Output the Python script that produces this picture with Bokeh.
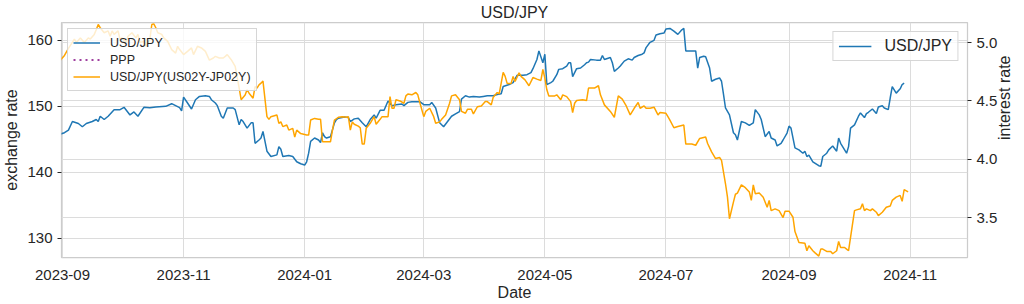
import math
import pandas as pd
from datetime import datetime
from bokeh.plotting import figure
from bokeh.models import (Range1d, LinearAxis, Grid, Legend, LegendItem, MonthsTicker,
                          DatetimeTickFormatter, ColumnDataSource, SingleIntervalTicker,
                          PrintfTickFormatter)
from bokeh.embed import file_html
from bokeh.resources import INLINE

# ---------------- data ----------------
usdjpy_dates = [
    "2023-08-31", "2023-09-02", "2023-09-04", "2023-09-06", "2023-09-09", "2023-09-11", "2023-09-13",
    "2023-09-16", "2023-09-18", "2023-09-19", "2023-09-20", "2023-09-22", "2023-09-24", "2023-09-27",
    "2023-09-30", "2023-10-02", "2023-10-05", "2023-10-07", "2023-10-09", "2023-10-12", "2023-10-15",
    "2023-10-18", "2023-10-23", "2023-10-26", "2023-10-30", "2023-10-31", "2023-11-01", "2023-11-03",
    "2023-11-05", "2023-11-07", "2023-11-09", "2023-11-12", "2023-11-14", "2023-11-15", "2023-11-17",
    "2023-11-18", "2023-11-20", "2023-11-21", "2023-11-23", "2023-11-26", "2023-11-27", "2023-11-29",
    "2023-11-30", "2023-12-01", "2023-12-03", "2023-12-05", "2023-12-06", "2023-12-07", "2023-12-09",
    "2023-12-10", "2023-12-11", "2023-12-13", "2023-12-15", "2023-12-18", "2023-12-19", "2023-12-20",
    "2023-12-21", "2023-12-24", "2023-12-26", "2023-12-28", "2023-12-30", "2024-01-01", "2024-01-02",
    "2024-01-03", "2024-01-04", "2024-01-06", "2024-01-08", "2024-01-09", "2024-01-10", "2024-01-11",
    "2024-01-12", "2024-01-14", "2024-01-16", "2024-01-17", "2024-01-18", "2024-01-21", "2024-01-23",
    "2024-01-24", "2024-01-26", "2024-01-28", "2024-01-30", "2024-02-01", "2024-02-03", "2024-02-05",
    "2024-02-06", "2024-02-08", "2024-02-10", "2024-02-12", "2024-02-14", "2024-02-16", "2024-02-19",
    "2024-02-20", "2024-02-22", "2024-02-24", "2024-02-28", "2024-03-01", "2024-03-04", "2024-03-05",
    "2024-03-07", "2024-03-09", "2024-03-11", "2024-03-13", "2024-03-15", "2024-03-17", "2024-03-19",
    "2024-03-20", "2024-03-22", "2024-03-24", "2024-03-26", "2024-03-29", "2024-03-31", "2024-04-02",
    "2024-04-05", "2024-04-07", "2024-04-09", "2024-04-10", "2024-04-13", "2024-04-15", "2024-04-17",
    "2024-04-20", "2024-04-22", "2024-04-24", "2024-04-25", "2024-04-27", "2024-04-28", "2024-04-30",
    "2024-05-01", "2024-05-02", "2024-05-04", "2024-05-05", "2024-05-07", "2024-05-08", "2024-05-10",
    "2024-05-12", "2024-05-13", "2024-05-14", "2024-05-15", "2024-05-17", "2024-05-19", "2024-05-21",
    "2024-05-22", "2024-05-23", "2024-05-24", "2024-05-27", "2024-05-29", "2024-05-30", "2024-05-31",
    "2024-06-03", "2024-06-04", "2024-06-05", "2024-06-07", "2024-06-08", "2024-06-10", "2024-06-12",
    "2024-06-14", "2024-06-15", "2024-06-17", "2024-06-19", "2024-06-20", "2024-06-21", "2024-06-23",
    "2024-06-25", "2024-06-26", "2024-06-28", "2024-06-30", "2024-07-01", "2024-07-03", "2024-07-05",
    "2024-07-07", "2024-07-09", "2024-07-10", "2024-07-11", "2024-07-14", "2024-07-16", "2024-07-17",
    "2024-07-18", "2024-07-20", "2024-07-21", "2024-07-23", "2024-07-24", "2024-07-26", "2024-07-28",
    "2024-07-29", "2024-07-30", "2024-07-31", "2024-08-02", "2024-08-04", "2024-08-05", "2024-08-06",
    "2024-08-08", "2024-08-10", "2024-08-12", "2024-08-14", "2024-08-15", "2024-08-17", "2024-08-18",
    "2024-08-20", "2024-08-22", "2024-08-23", "2024-08-25", "2024-08-26", "2024-08-28", "2024-08-29",
    "2024-08-31", "2024-09-01", "2024-09-02", "2024-09-04", "2024-09-06", "2024-09-08", "2024-09-09",
    "2024-09-10", "2024-09-11", "2024-09-13", "2024-09-16", "2024-09-17", "2024-09-18", "2024-09-20",
    "2024-09-21", "2024-09-23", "2024-09-25", "2024-09-26", "2024-09-27", "2024-09-30", "2024-10-01",
    "2024-10-02", "2024-10-04", "2024-10-06", "2024-10-07", "2024-10-09", "2024-10-10", "2024-10-11",
    "2024-10-13", "2024-10-15", "2024-10-16", "2024-10-18", "2024-10-19", "2024-10-21", "2024-10-22",
    "2024-10-23", "2024-10-25", "2024-10-27", "2024-10-28", "2024-10-29",
]
usdjpy_values = [
    145.8, 146.0, 146.4, 147.7, 147.4, 146.9, 147.4,
    147.7, 148.0, 147.7, 148.5, 148.0, 148.5, 149.5,
    149.5, 149.85, 148.7, 149.15, 148.5, 149.85, 149.8,
    149.9, 150.0, 150.4, 149.8, 149.3, 151.4, 150.5,
    149.6, 151.0, 151.5, 151.6, 151.5, 151.0, 150.5,
    150.1, 148.5, 148.2, 149.75, 149.75, 149.5, 147.2,
    148.0, 147.7, 146.7, 147.5, 147.5, 144.4, 144.9,
    145.2, 146.2, 143.2, 142.4, 142.65, 143.9, 143.5,
    142.4, 142.55, 142.4, 141.6, 141.3, 141.1, 141.6,
    142.9, 144.7, 145.2, 144.9, 144.5, 146.0, 145.4,
    145.2, 145.4, 147.5, 148.0, 148.2, 148.4, 148.3,
    147.7, 148.1, 148.2, 147.5, 146.9, 148.0, 148.7,
    148.2, 149.4, 149.4, 150.8, 150.1, 150.25, 150.35,
    150.1, 150.6, 150.7, 150.7, 150.25, 150.25, 150.6,
    149.75, 147.5, 146.9, 147.7, 148.5, 148.85, 149.2,
    151.1, 151.6, 151.4, 151.5, 151.4, 151.5, 151.6,
    151.6, 151.8, 151.9, 153.0, 153.3, 153.6, 154.7,
    154.7, 154.8, 155.1, 155.7, 157.1, 158.4, 156.6,
    157.9, 153.3, 153.6, 153.8, 154.8, 155.6, 155.7,
    156.1, 156.6, 156.6, 154.5, 155.7, 155.8, 156.3,
    156.6, 156.7, 157.1, 157.0, 157.0, 157.7, 157.1,
    157.4, 156.6, 155.3, 155.8, 156.1, 156.85, 157.2,
    157.0, 157.4, 157.7, 157.9, 158.1, 158.9, 159.7,
    160.0, 160.8, 161.0, 161.1, 161.7, 161.8, 161.4,
    160.9, 161.6, 161.8, 158.4, 158.4, 158.4, 155.8,
    157.4, 157.6, 157.5, 155.8, 153.8, 154.1, 154.3,
    153.8, 151.8, 149.75, 148.7, 146.0, 145.7, 144.9,
    147.7, 147.5, 147.1, 147.5, 149.5, 148.7, 148.0,
    145.4, 146.2, 145.2, 144.9, 144.0, 144.4, 144.9,
    145.95, 147.0, 146.7, 143.7, 143.4, 142.9, 143.2,
    142.4, 142.6, 141.6, 141.0, 140.9, 142.4, 142.9,
    143.4, 144.0, 143.2, 145.2, 144.4, 142.9, 143.9,
    146.7, 147.2, 148.5, 149.0, 148.3, 148.9, 149.1,
    149.6, 148.9, 149.9, 150.1, 149.75, 149.5, 151.3,
    153.0, 152.0, 152.65, 153.3, 153.5,
]

spread_dates = [
    "2023-08-31", "2023-09-02", "2023-09-04", "2023-09-07", "2023-09-08", "2023-09-10", "2023-09-12",
    "2023-09-14", "2023-09-15", "2023-09-17", "2023-09-18", "2023-09-19", "2023-09-20", "2023-09-22",
    "2023-09-24", "2023-09-25", "2023-09-26", "2023-09-27", "2023-09-29", "2023-09-30", "2023-10-01",
    "2023-10-03", "2023-10-04", "2023-10-06", "2023-10-08", "2023-10-09", "2023-10-10", "2023-10-12",
    "2023-10-13", "2023-10-15", "2023-10-16", "2023-10-17", "2023-10-18", "2023-10-19", "2023-10-21",
    "2023-10-22", "2023-10-24", "2023-10-26", "2023-10-28", "2023-10-29", "2023-10-30", "2023-11-01",
    "2023-11-03", "2023-11-05", "2023-11-06", "2023-11-08", "2023-11-10", "2023-11-12", "2023-11-14",
    "2023-11-16", "2023-11-17", "2023-11-19", "2023-11-21", "2023-11-22", "2023-11-23", "2023-11-25",
    "2023-11-27", "2023-11-29", "2023-11-30", "2023-12-02", "2023-12-03", "2023-12-04", "2023-12-06",
    "2023-12-07", "2023-12-08", "2023-12-09", "2023-12-10", "2023-12-11", "2023-12-13", "2023-12-14",
    "2023-12-15", "2023-12-18", "2023-12-19", "2023-12-20", "2023-12-21", "2023-12-23", "2023-12-24",
    "2023-12-26", "2023-12-27", "2023-12-28", "2023-12-30", "2024-01-02", "2024-01-03", "2024-01-04",
    "2024-01-06", "2024-01-08", "2024-01-09", "2024-01-10", "2024-01-12", "2024-01-14", "2024-01-15",
    "2024-01-16", "2024-01-18", "2024-01-20", "2024-01-22", "2024-01-23", "2024-01-24", "2024-01-25",
    "2024-01-26", "2024-01-28", "2024-01-29", "2024-01-30", "2024-01-31", "2024-02-01", "2024-02-03",
    "2024-02-05", "2024-02-06", "2024-02-08", "2024-02-09", "2024-02-10", "2024-02-12", "2024-02-13",
    "2024-02-14", "2024-02-15", "2024-02-16", "2024-02-18", "2024-02-20", "2024-02-21", "2024-02-22",
    "2024-02-24", "2024-02-26", "2024-02-27", "2024-02-28", "2024-03-01", "2024-03-02", "2024-03-04",
    "2024-03-06", "2024-03-07", "2024-03-09", "2024-03-10", "2024-03-12", "2024-03-14", "2024-03-15",
    "2024-03-17", "2024-03-19", "2024-03-20", "2024-03-22", "2024-03-23", "2024-03-25", "2024-03-26",
    "2024-03-28", "2024-03-30", "2024-04-01", "2024-04-02", "2024-04-04", "2024-04-05", "2024-04-07",
    "2024-04-08", "2024-04-10", "2024-04-11", "2024-04-12", "2024-04-14", "2024-04-15", "2024-04-16",
    "2024-04-18", "2024-04-19", "2024-04-21", "2024-04-23", "2024-04-25", "2024-04-27", "2024-04-29",
    "2024-04-30", "2024-05-01", "2024-05-02", "2024-05-03", "2024-05-06", "2024-05-07", "2024-05-09",
    "2024-05-10", "2024-05-12", "2024-05-14", "2024-05-15", "2024-05-16", "2024-05-17", "2024-05-20",
    "2024-05-22", "2024-05-23", "2024-05-26", "2024-05-28", "2024-05-29", "2024-05-31", "2024-06-03",
    "2024-06-05", "2024-06-07", "2024-06-09", "2024-06-11", "2024-06-13", "2024-06-15", "2024-06-17",
    "2024-06-18", "2024-06-20", "2024-06-21", "2024-06-23", "2024-06-25", "2024-06-27", "2024-06-28",
    "2024-07-01", "2024-07-02", "2024-07-03", "2024-07-05", "2024-07-07", "2024-07-10", "2024-07-11",
    "2024-07-14", "2024-07-16", "2024-07-18", "2024-07-21", "2024-07-22", "2024-07-24", "2024-07-26",
    "2024-07-28", "2024-07-29", "2024-07-31", "2024-08-01", "2024-08-02", "2024-08-04", "2024-08-05",
    "2024-08-06", "2024-08-08", "2024-08-10", "2024-08-12", "2024-08-13", "2024-08-14", "2024-08-15",
    "2024-08-17", "2024-08-19", "2024-08-21", "2024-08-22", "2024-08-23", "2024-08-25", "2024-08-27",
    "2024-08-29", "2024-08-30", "2024-09-01", "2024-09-03", "2024-09-04", "2024-09-06", "2024-09-09",
    "2024-09-10", "2024-09-11", "2024-09-13", "2024-09-14", "2024-09-16", "2024-09-17", "2024-09-18",
    "2024-09-20", "2024-09-22", "2024-09-23", "2024-09-25", "2024-09-26", "2024-09-27", "2024-09-29",
    "2024-09-30", "2024-10-01", "2024-10-02", "2024-10-04", "2024-10-05", "2024-10-07", "2024-10-08",
    "2024-10-09", "2024-10-10", "2024-10-12", "2024-10-13", "2024-10-15", "2024-10-16", "2024-10-18",
    "2024-10-20", "2024-10-22", "2024-10-23", "2024-10-25", "2024-10-27", "2024-10-28", "2024-10-29",
    "2024-10-31",
]
spread_values = [
    4.85, 4.89, 4.95, 5.03, 5.00, 5.04, 5.00,
    5.04, 5.03, 5.07, 5.11, 5.155, 5.127, 5.084,
    5.10, 5.054, 5.10, 5.07, 5.10, 5.026, 5.04,
    5.00, 5.054, 5.084, 5.04, 5.07, 5.00, 5.01,
    4.968, 5.03, 5.155, 5.16, 5.127, 5.084, 5.07,
    5.04, 5.01, 4.94, 4.91, 4.968, 4.94, 4.897,
    4.925, 4.954, 4.897, 4.968, 4.954, 4.925, 4.85,
    4.868, 4.882, 4.868, 4.868, 4.882, 4.897, 4.853,
    4.796, 4.61, 4.51, 4.55, 4.595, 4.566, 4.523,
    4.623, 4.61, 4.638, 4.652, 4.67, 4.365, 4.342,
    4.365, 4.38, 4.308, 4.32, 4.28, 4.293, 4.25,
    4.265, 4.19, 4.25, 4.22, 4.207, 4.207, 4.336,
    4.35, 4.342, 4.342, 4.15, 4.15, 4.15, 4.25,
    4.336, 4.36, 4.365, 4.36, 4.365, 4.25, 4.32,
    4.30, 4.284, 4.27, 4.13, 4.13, 4.265, 4.308,
    4.365, 4.30, 4.342, 4.365, 4.365, 4.365, 4.537,
    4.437, 4.437, 4.51, 4.50, 4.48, 4.543, 4.56,
    4.552, 4.572, 4.552, 4.486, 4.365, 4.41, 4.437,
    4.365, 4.308, 4.32, 4.342, 4.38, 4.48, 4.543,
    4.552, 4.51, 4.41, 4.394, 4.428, 4.428, 4.388,
    4.45, 4.457, 4.494, 4.494, 4.466, 4.532, 4.572,
    4.56, 4.744, 4.71, 4.65, 4.65, 4.71, 4.666,
    4.74, 4.71, 4.68, 4.63, 4.70, 4.687, 4.675,
    4.77, 4.695, 4.595, 4.543, 4.543, 4.552, 4.51,
    4.552, 4.537, 4.494, 4.40, 4.48, 4.503, 4.51,
    4.503, 4.61, 4.61, 4.63, 4.552, 4.466, 4.41,
    4.36, 4.543, 4.515, 4.457, 4.38, 4.437, 4.486,
    4.437, 4.457, 4.437, 4.437, 4.446, 4.38, 4.40,
    4.394, 4.365, 4.336, 4.27, 4.28, 4.293, 4.13,
    4.13, 4.12, 4.178, 4.19, 4.135, 4.063, 4.006,
    4.015, 3.99, 3.79, 3.675, 3.49, 3.632, 3.70,
    3.71, 3.78, 3.756, 3.72, 3.647, 3.78, 3.705,
    3.71, 3.675, 3.589, 3.647, 3.56, 3.575, 3.56,
    3.50, 3.555, 3.555, 3.503, 3.38, 3.287, 3.28,
    3.216, 3.259, 3.216, 3.20, 3.17, 3.23, 3.23,
    3.21, 3.21, 3.19, 3.216, 3.296, 3.244, 3.244,
    3.23, 3.216, 3.33, 3.56, 3.566, 3.575, 3.618,
    3.56, 3.575, 3.56, 3.575, 3.546, 3.517, 3.546,
    3.589, 3.60, 3.647, 3.675, 3.69, 3.64, 3.739,
    3.72,
]

# PPP series is listed in the legend but has no values in view
ppp_dates = ["2023-08-31", "2024-10-31"]
ppp_values = [float("nan"), float("nan")]

series_labels = ["USD/JPY", "PPP", "USD/JPY(US02Y-JP02Y)"]
title_text = "USD/JPY"
x_label = "Date"
left_label = "exchange rate"
right_label = "interest rate"

# ---------------- style ----------------
FONT = "Liberation Sans"
TXT = "#262626"
GRID = "#dcdcdc"
BLUE = "#1f77b4"
ORANGE = "#ffa500"
PURPLE = "#800080"

src_fx = ColumnDataSource(dict(x=pd.to_datetime(usdjpy_dates), y=usdjpy_values))
src_sp = ColumnDataSource(dict(x=pd.to_datetime(spread_dates), y=spread_values))
src_ppp = ColumnDataSource(dict(x=pd.to_datetime(ppp_dates), y=ppp_values))

p = figure(width=1024, height=304, x_axis_type="datetime",
           output_backend="svg", toolbar_location=None,
           x_range=Range1d(datetime(2023, 8, 31, 12), datetime(2024, 11, 29, 22)),
           y_range=Range1d(127.1, 162.7),
           min_border_left=60, min_border_right=54, min_border_top=0, min_border_bottom=47)
p.extra_y_ranges = {"right": Range1d(3.158, 5.172)}

p.title.text = title_text
p.title.align = "center"
p.title.text_font = FONT
p.title.text_font_size = "16px"
p.title.text_font_style = "normal"
p.title.text_color = TXT
p.title.standoff = 3

p.outline_line_color = "#cccccc"
p.outline_line_width = 1.25
p.background_fill_color = "white"
p.border_fill_color = "white"

# x axis
xa = p.xaxis[0]
xa.ticker = MonthsTicker(months=[0, 2, 4, 6, 8, 10])
xa.formatter = DatetimeTickFormatter(months="%Y-%m", days="%Y-%m", years="%Y-%m")
xa.axis_label = x_label
xa.major_tick_line_color = None
xa.minor_tick_line_color = None
xa.axis_line_color = None
xa.major_label_standoff = 6

# left axis
ya = p.yaxis[0]
ya.ticker = SingleIntervalTicker(interval=10)
ya.axis_label = left_label
ya.minor_tick_line_color = None
ya.axis_line_color = None
ya.major_tick_in = 0
ya.major_tick_out = 4
ya.major_tick_line_color = TXT

# right axis, label reading bottom-to-top like the left one
ra = LinearAxis(y_range_name="right", axis_label=right_label,
                ticker=SingleIntervalTicker(interval=0.5),
                formatter=PrintfTickFormatter(format="%.1f"))
ra.minor_tick_line_color = None
ra.axis_line_color = None
ra.major_tick_in = 0
ra.major_tick_out = 4
ra.major_tick_line_color = TXT
ra.axis_label_orientation = math.pi / 2
p.add_layout(ra, "right")

for ax in (xa, ya, ra):
    ax.major_label_text_font = FONT
    ax.major_label_text_font_size = "15px"
    ax.major_label_text_color = TXT
    ax.axis_label_text_font = FONT
    ax.axis_label_text_font_size = "16px"
    ax.axis_label_text_font_style = "normal"
    ax.axis_label_text_color = TXT
    ax.axis_label_standoff = 4
xa.axis_label_standoff = 1
ra.axis_label_text_baseline = "top"
ra.axis_label_text_align = "center"

p.xgrid.grid_line_color = GRID
p.ygrid.grid_line_color = GRID
p.add_layout(Grid(dimension=1, ticker=ra.ticker, y_range_name="right",
                  grid_line_color=GRID))

r_fx = p.line("x", "y", source=src_fx, color=BLUE, line_width=1.5)
r_ppp = p.line("x", "y", source=src_ppp, color=PURPLE, line_width=1.5, line_dash="dotted")
r_sp = p.line("x", "y", source=src_sp, color=ORANGE, line_width=1.5, y_range_name="right")

leg1 = Legend(items=[LegendItem(label=series_labels[0], renderers=[r_fx]),
                     LegendItem(label=series_labels[1], renderers=[r_ppp]),
                     LegendItem(label=series_labels[2], renderers=[r_sp])],
              location="top_left", margin=6, padding=5, spacing=0,
              glyph_width=27, glyph_height=17, label_height=17, label_standoff=10,
              label_text_font=FONT, label_text_font_size="12.5px", label_text_color=TXT,
              background_fill_alpha=0.8, border_line_color="#cccccc", border_line_alpha=0.8)
leg2 = Legend(items=[LegendItem(label=series_labels[0], renderers=[r_fx])],
              location="top_right", margin=9, padding=5, spacing=0,
              glyph_width=33, glyph_height=18, label_height=18, label_standoff=13,
              label_text_font=FONT, label_text_font_size="16px", label_text_color=TXT,
              background_fill_alpha=0.8, border_line_color="#cccccc", border_line_alpha=0.8)
p.add_layout(leg1, "center")
p.add_layout(leg2, "center")

open("out.html", "w").write(file_html(p, INLINE))
